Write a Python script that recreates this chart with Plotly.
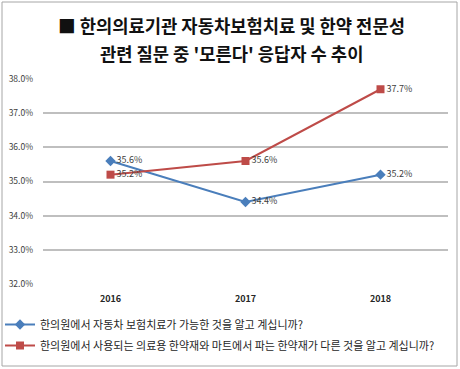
import plotly.graph_objects as go

years = ["2016", "2017", "2018"]
series1_name = "한의원에서 자동차 보험치료가 가능한 것을 알고 계십니까?"
series1 = [35.6, 34.4, 35.2]
series2_name = "한의원에서 사용되는 의료용 한약재와 마트에서 파는 한약재가 다른 것을 알고 계십니까?"
series2 = [35.2, 35.6, 37.7]
y_ticks = [32, 33, 34, 35, 36, 37, 38]
y_tick_labels = ["32.0%", "33.0%", "34.0%", "35.0%", "36.0%", "37.0%", "38.0%"]
title_line1 = "■ 한의의료기관 자동차보험치료 및 한약 전문성"
title_line2 = "관련 질문 중 '모른다' 응답자 수 추이"

FONT = "Noto Sans CJK KR"
BLUE = "#4A7EBB"
RED = "#BE4B48"

fig = go.Figure()
fig.add_trace(go.Scatter(
    x=years, y=series1, name=series1_name, mode="lines+markers+text",
    line=dict(color=BLUE, width=2),
    marker=dict(symbol="diamond", size=8, color=BLUE),
    text=[f"{v:.1f}%" for v in series1], textposition="middle right",
    textfont=dict(size=9, color="#404040", family=FONT),
    legendgroup="a",
))
fig.add_trace(go.Scatter(
    x=years, y=series2, name=series2_name, mode="lines+markers+text",
    line=dict(color=RED, width=2),
    marker=dict(symbol="square", size=8, color=RED),
    text=[f"{v:.1f}%" for v in series2], textposition="middle right",
    textfont=dict(size=9, color="#404040", family=FONT),
    legendgroup="b",
))

W, H = 460, 369
L, R, T, B = 43, 12, 79, 85
pw, ph = W - L - R, H - T - B

def px_x(x):
    return (x - L) / pw

def px_y(y):
    return (H - B - y) / ph

title_font = dict(size=17.7, family=FONT, color="#111111", weight="bold")

fig.update_layout(
    width=W, height=H,
    margin=dict(l=L, r=R, t=T, b=B, autoexpand=False),
    paper_bgcolor="white", plot_bgcolor="white",
    font=dict(family=FONT, color="#262626"),
    showlegend=True,
    legend=dict(xref="container", yref="container",
                x=0, y=1 - 310 / H, xanchor="left", yanchor="top",
                font=dict(size=11, family=FONT, color="#262626"),
                traceorder="grouped", tracegroupgap=2,
                bgcolor="rgba(0,0,0,0)", itemwidth=30),
    xaxis=dict(showgrid=False, showline=False, zeroline=False, ticks="",
               tickfont=dict(size=9, family=FONT, color="#262626", weight="bold"),
               ticklabelstandoff=8, range=[-0.5, 2.5]),
    yaxis=dict(range=[32, 38], tickvals=y_ticks, ticktext=y_tick_labels,
               showgrid=True, gridcolor="#BFBFBF", gridwidth=1.5, zeroline=False,
               showline=False, ticks="", ticklabelstandoff=9,
               tickfont=dict(size=8.5, family=FONT, color="#404040")),
    annotations=[
        dict(text=title_line1, xref="paper", yref="paper", x=px_x(231), y=px_y(25),
             xanchor="center", yanchor="middle", showarrow=False, font=title_font),
        dict(text=title_line2, xref="paper", yref="paper", x=px_x(231), y=px_y(53),
             xanchor="center", yanchor="middle", showarrow=False, font=title_font),
    ],
    shapes=[dict(type="rect", xref="paper", yref="paper",
                 x0=px_x(2), x1=px_x(457), y0=px_y(366), y1=px_y(2),
                 line=dict(color="#A6A6A6", width=1), fillcolor="rgba(0,0,0,0)", layer="below")],
)
fig.update_traces(cliponaxis=False)

fig.write_html("out.html", config={"displayModeBar": False},
               post_script="document.body.style.margin='0px';")
